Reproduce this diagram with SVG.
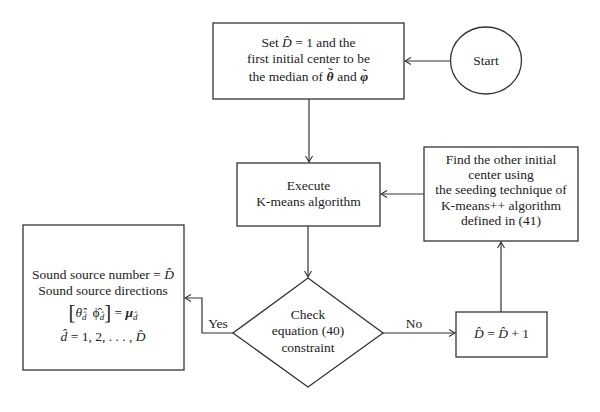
<svg xmlns="http://www.w3.org/2000/svg" width="600" height="412" viewBox="0 0 600 412">
<defs>
<marker id="arr" markerWidth="8" markerHeight="8" refX="7" refY="4" orient="auto" markerUnits="userSpaceOnUse">
<path d="M1,0.5 L7,4 L1,7.5" fill="none" stroke="#333" stroke-width="1.1"/>
</marker>
<style>
.box{fill:#fff;stroke:#333;stroke-width:1.3}
.ln{fill:none;stroke:#333;stroke-width:1.2}
.c{text-anchor:middle}
.i{font-style:italic}
.b{font-style:italic;font-weight:bold}
.s{font-size:9px;font-style:italic}
</style>
</defs>
<rect width="600" height="412" fill="#fff"/>
<g font-family="'Liberation Serif', 'Times New Roman', serif" font-size="13.5" fill="#222">
<g id="connectors">
<line class="ln" x1="451" y1="61" x2="405" y2="61" marker-end="url(#arr)"/>
<line class="ln" x1="309" y1="99" x2="309" y2="162" marker-end="url(#arr)"/>
<line class="ln" x1="308" y1="226" x2="308" y2="277" marker-end="url(#arr)"/>
<line class="ln" x1="424" y1="194" x2="381" y2="194" marker-end="url(#arr)"/>
<line class="ln" x1="383" y1="333" x2="455" y2="333" marker-end="url(#arr)"/>
<line class="ln" x1="501" y1="312" x2="501" y2="242" marker-end="url(#arr)"/>
<polyline class="ln" points="233,333 202,333 202,298 185,298" marker-end="url(#arr)"/>
<text x="218" y="328" class="c">Yes</text>
<text x="414" y="328" class="c">No</text>
</g>
<g id="start">
<ellipse class="box" cx="486" cy="60.5" rx="35.5" ry="33.5"/>
<text x="486" y="65" class="c">Start</text>
</g>
<g id="init">
<rect class="box" x="213" y="23" width="191" height="76"/>
<text x="308.5" y="47" class="c">Set <tspan class="i">D̂</tspan> = 1 and the</text>
<text x="308.5" y="63" class="c">first initial center to be</text>
<text x="308.5" y="81" class="c">the median of <tspan class="b">θ</tspan><tspan dx="-5.5" dy="-4">˜</tspan><tspan dx="1.5" dy="4"> and </tspan><tspan class="b">φ</tspan><tspan dx="-6" dy="-3">˜</tspan></text>
</g>
<g id="execute">
<rect class="box" x="237" y="163" width="143" height="63"/>
<text x="308.5" y="190" class="c">Execute</text>
<text x="308.5" y="206" class="c">K-means algorithm</text>
</g>
<g id="find">
<rect class="box" x="424" y="147" width="154" height="94"/>
<text x="501" y="164" class="c">Find the other initial</text>
<text x="501" y="179" class="c">center using</text>
<text x="501" y="194" class="c">the seeding technique of</text>
<text x="501" y="210" class="c">K-means++ algorithm</text>
<text x="501" y="225" class="c">defined in (41)</text>
</g>
<g id="check">
<polygon class="box" points="308,278 383,333 308,387 233,333"/>
<text x="308" y="319" class="c">Check</text>
<text x="308" y="335" class="c">equation (40)</text>
<text x="308" y="352" class="c">constraint</text>
</g>
<g id="result">
<rect class="box" x="23" y="225" width="161" height="145"/>
<text x="103" y="279" class="c">Sound source number = <tspan class="i">D̂</tspan></text>
<text x="103" y="295" class="c">Sound source directions</text>
<text x="103" y="317" class="c"><tspan font-size="21" dy="2">[</tspan><tspan class="i" dy="-2">θ̂</tspan><tspan class="s" dy="3">d̂</tspan><tspan dy="-3" dx="6">ϕ̂</tspan><tspan class="s" dy="3">d̂</tspan><tspan font-size="21" dy="-1">]</tspan><tspan dy="-2"> = </tspan><tspan class="b">μ</tspan><tspan class="s" dy="3">d̂</tspan></text>
<text x="103" y="341" class="c"><tspan class="i">d̂</tspan> = 1, 2, . . . , <tspan class="i">D̂</tspan></text>
</g>
<g id="increment">
<rect class="box" x="456" y="312" width="91" height="45"/>
<text x="501.5" y="338" class="c"><tspan class="i">D̂</tspan> = <tspan class="i">D̂</tspan> + 1</text>
</g>
</g>
</svg>
